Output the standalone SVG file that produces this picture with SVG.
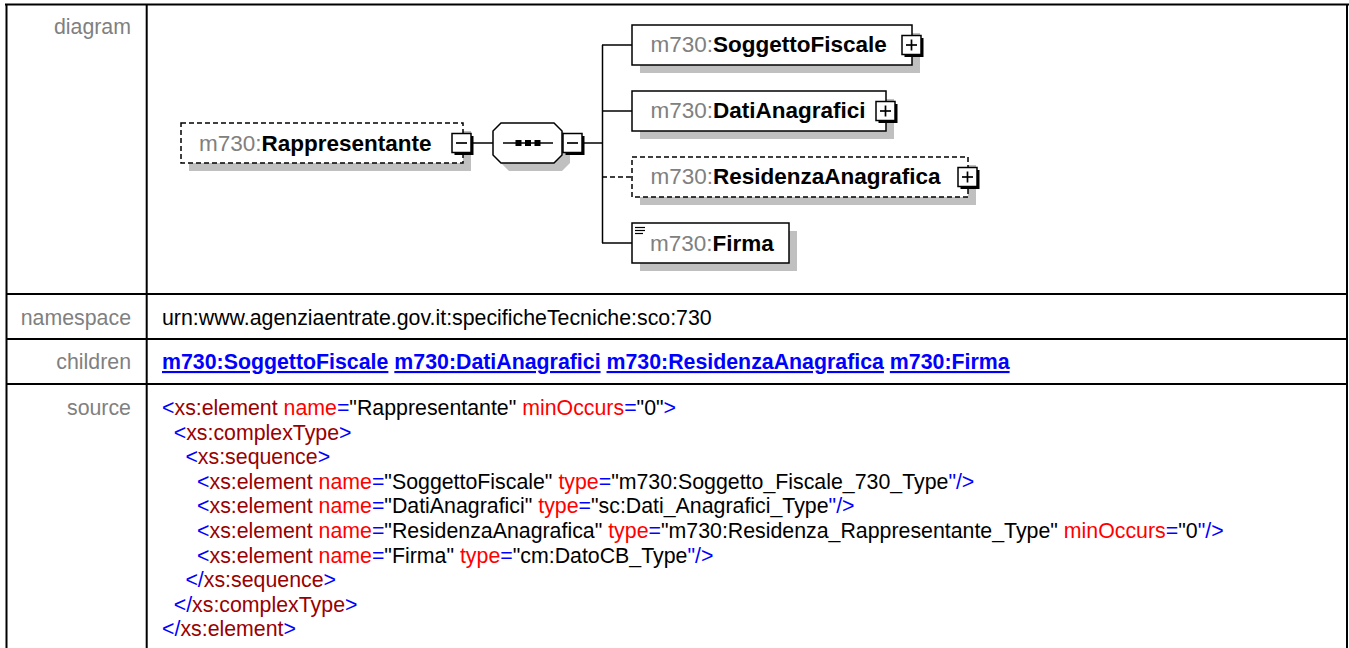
<svg xmlns="http://www.w3.org/2000/svg" width="1349" height="648" viewBox="0 0 1349 648">
<style>
.grid{stroke:#000;stroke-width:2;fill:none}
.lbl{font-family:"Liberation Sans",Arial,sans-serif;font-size:21.33px;fill:#808080;text-anchor:end}
.val{font-family:"Liberation Sans",Arial,sans-serif;font-size:21.33px;fill:#000}
.lnk{font-family:"Liberation Sans",Arial,sans-serif;font-size:21.33px;font-weight:bold;fill:#0000ff}
.lnk tspan.u{text-decoration:underline}
.src{font-family:"Liberation Sans",Arial,sans-serif;font-size:21.33px;fill:#000}
.t{fill:#0000ff}
.e{fill:#990000}
.a{fill:#ff0000}
.box{fill:#fff;stroke:#000;stroke-width:1.5}
.dash{stroke-dasharray:5,3}
.shadow{fill:#c0c0c0}
.nm{font-family:"Liberation Sans",Arial,sans-serif;font-size:22.5px;font-weight:bold;fill:#000}
.ns{font-weight:normal;fill:#808080}
.conn{stroke:#000;stroke-width:1.5;fill:none}
</style>
<defs>
<g id="btnMinus">
<rect x="2.5" y="2.5" width="19" height="19" fill="#000"/>
<rect x="0" y="0" width="19" height="19" fill="#fff" stroke="#000" stroke-width="1.5"/>
<line x1="4" y1="9.5" x2="15" y2="9.5" stroke="#000" stroke-width="1.7"/>
</g>
<g id="btnPlus">
<rect x="2.5" y="2.5" width="19" height="19" fill="#000"/>
<rect x="0" y="0" width="19" height="19" fill="#fff" stroke="#000" stroke-width="1.5"/>
<line x1="4" y1="9.5" x2="15" y2="9.5" stroke="#000" stroke-width="1.7"/>
<line x1="9.5" y1="4" x2="9.5" y2="15" stroke="#000" stroke-width="1.7"/>
</g>
</defs>
<rect width="1349" height="648" fill="#fff"/>

<!-- table grid -->
<g id="table">
<line class="grid" x1="5" y1="4.5" x2="1349" y2="4.5"/>
<line class="grid" x1="6.5" y1="4" x2="6.5" y2="648"/>
<line class="grid" x1="146.7" y1="4" x2="146.7" y2="648"/>
<line class="grid" x1="1347" y1="4" x2="1347" y2="648"/>
<line class="grid" x1="6" y1="294" x2="1348" y2="294"/>
<line class="grid" x1="6" y1="339" x2="1348" y2="339"/>
<line class="grid" x1="6" y1="384" x2="1348" y2="384"/>
<text class="lbl" x="131" y="34">diagram</text>
<text class="lbl" x="131" y="325">namespace</text>
<text class="lbl" x="131" y="369">children</text>
<text class="lbl" x="131" y="415">source</text>
<text class="val" x="162" y="325">urn:www.agenziaentrate.gov.it:specificheTecniche:sco:730</text>
<text class="lnk" x="162" y="369"><tspan class="u">m730:SoggettoFiscale</tspan> <tspan class="u">m730:DatiAnagrafici</tspan> <tspan class="u">m730:ResidenzaAnagrafica</tspan> <tspan class="u">m730:Firma</tspan></text>
</g>

<!-- source -->
<g id="source" class="src">
<text x="162" y="415"><tspan class="t">&lt;</tspan><tspan class="e">xs:element</tspan><tspan class="a"> name</tspan><tspan class="t">=</tspan>"Rappresentante"<tspan class="a"> minOccurs</tspan><tspan class="t">=</tspan>"0"<tspan class="t">&gt;</tspan></text>
<text x="173.7" y="439.6"><tspan class="t">&lt;</tspan><tspan class="e">xs:complexType</tspan><tspan class="t">&gt;</tspan></text>
<text x="185.4" y="464.2"><tspan class="t">&lt;</tspan><tspan class="e">xs:sequence</tspan><tspan class="t">&gt;</tspan></text>
<text x="197" y="488.8"><tspan class="t">&lt;</tspan><tspan class="e">xs:element</tspan><tspan class="a"> name</tspan><tspan class="t">=</tspan>"SoggettoFiscale"<tspan class="a"> type</tspan><tspan class="t">=</tspan>"m730:Soggetto_Fiscale_730_Type<tspan class="t">"/&gt;</tspan></text>
<text x="197" y="513.4"><tspan class="t">&lt;</tspan><tspan class="e">xs:element</tspan><tspan class="a"> name</tspan><tspan class="t">=</tspan>"DatiAnagrafici"<tspan class="a"> type</tspan><tspan class="t">=</tspan>"sc:Dati_Anagrafici_Type<tspan class="t">"/&gt;</tspan></text>
<text x="197" y="538"><tspan class="t">&lt;</tspan><tspan class="e">xs:element</tspan><tspan class="a"> name</tspan><tspan class="t">=</tspan>"ResidenzaAnagrafica"<tspan class="a"> type</tspan><tspan class="t">=</tspan>"m730:Residenza_Rappresentante_Type"<tspan class="a"> minOccurs</tspan><tspan class="t">=</tspan>"0<tspan class="t">"/&gt;</tspan></text>
<text x="197" y="562.6"><tspan class="t">&lt;</tspan><tspan class="e">xs:element</tspan><tspan class="a"> name</tspan><tspan class="t">=</tspan>"Firma"<tspan class="a"> type</tspan><tspan class="t">=</tspan>"cm:DatoCB_Type<tspan class="t">"/&gt;</tspan></text>
<text x="185.4" y="587.2"><tspan class="t">&lt;/</tspan><tspan class="e">xs:sequence</tspan><tspan class="t">&gt;</tspan></text>
<text x="173.7" y="611.8"><tspan class="t">&lt;/</tspan><tspan class="e">xs:complexType</tspan><tspan class="t">&gt;</tspan></text>
<text x="162" y="636.4"><tspan class="t">&lt;/</tspan><tspan class="e">xs:element</tspan><tspan class="t">&gt;</tspan></text>
</g>

<!-- connectors -->
<g id="connectors" class="conn">
<line x1="473" y1="143" x2="493" y2="143"/>
<line x1="584" y1="143" x2="602.5" y2="143"/>
<line x1="602.5" y1="45" x2="602.5" y2="243"/>
<line x1="602" y1="45" x2="632" y2="45"/>
<line x1="602" y1="111" x2="632" y2="111"/>
<line x1="602" y1="177" x2="632" y2="177" stroke-dasharray="5,3"/>
<line x1="602" y1="243" x2="632" y2="243"/>
</g>

<!-- root element -->
<g id="node-Rappresentante">
<rect class="shadow" x="189" y="131" width="282" height="40"/>
<rect class="box dash" x="181" y="123" width="282" height="40"/>
<text class="nm" x="199" y="151"><tspan class="ns">m730:</tspan>Rappresentante</text>
<use href="#btnMinus" x="452" y="133.5"/>
</g>

<!-- sequence compositor -->
<g id="node-sequence">
<polygon class="shadow" points="509,131 562,131 570,139 570,163 562,171 509,171 501,163 501,139"/>
<polygon class="box" points="501,123 554,123 562,131 562,155 554,163 501,163 493,155 493,131"/>
<line x1="503" y1="143" x2="553" y2="143" stroke="#000" stroke-width="1.5"/>
<rect x="515.5" y="140" width="6" height="6" fill="#000"/>
<rect x="525" y="140" width="6" height="6" fill="#000"/>
<rect x="534.5" y="140" width="6" height="6" fill="#000"/>
<use href="#btnMinus" x="563" y="133.5"/>
</g>

<g id="node-SoggettoFiscale">
<rect class="shadow" x="640" y="33" width="280" height="40"/>
<rect class="box" x="632" y="25" width="280" height="40"/>
<text class="nm" x="650.5" y="52"><tspan class="ns">m730:</tspan>SoggettoFiscale</text>
<use href="#btnPlus" x="902" y="35.5"/>
</g>

<g id="node-DatiAnagrafici">
<rect class="shadow" x="640" y="99" width="254" height="40"/>
<rect class="box" x="632" y="91" width="254" height="40"/>
<text class="nm" x="650.5" y="118"><tspan class="ns">m730:</tspan>DatiAnagrafici</text>
<use href="#btnPlus" x="876" y="101.5"/>
</g>

<g id="node-ResidenzaAnagrafica">
<rect class="shadow" x="640" y="165" width="336" height="40"/>
<rect class="box dash" x="632" y="157" width="336" height="40"/>
<text class="nm" x="650.5" y="184"><tspan class="ns">m730:</tspan>ResidenzaAnagrafica</text>
<use href="#btnPlus" x="958" y="167.5"/>
</g>

<g id="node-Firma">
<rect class="shadow" x="640" y="231" width="157" height="40"/>
<rect class="box" x="632" y="223" width="157" height="40"/>
<g stroke="#000" stroke-width="1.2">
<line x1="635" y1="227.5" x2="645" y2="227.5"/>
<line x1="635" y1="230.5" x2="645" y2="230.5"/>
<line x1="635" y1="233.5" x2="643" y2="233.5"/>
</g>
<text class="nm" x="650" y="251"><tspan class="ns">m730:</tspan>Firma</text>
</g>
</svg>
